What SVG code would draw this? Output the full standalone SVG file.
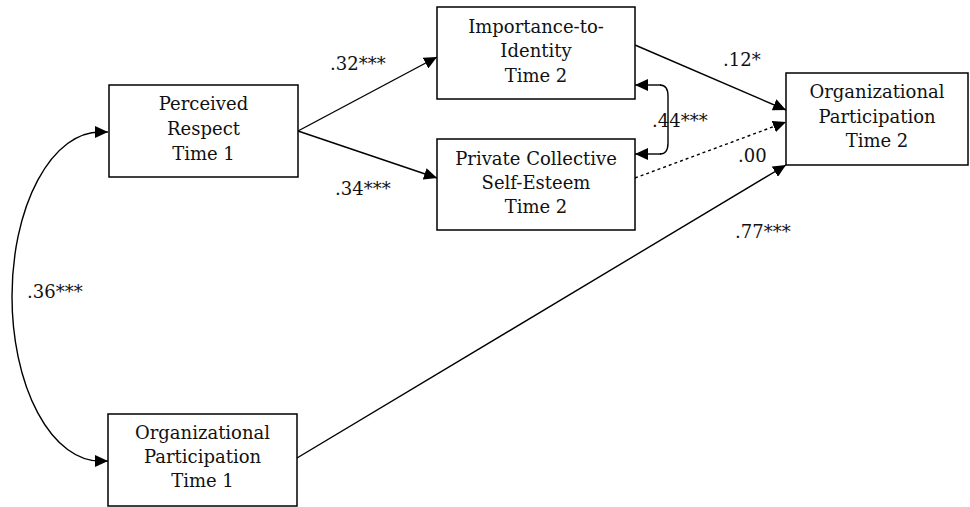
<svg xmlns="http://www.w3.org/2000/svg" width="970" height="507" viewBox="0 0 970 507">
<style>
.box{fill:#fff;stroke:#000;stroke-width:1.5}
text{font-family:"DejaVu Serif",serif}
.t{font-size:18px;letter-spacing:0px;fill:#111;text-anchor:middle}
.lbl{font-size:18px;fill:#111}
.c{fill:none;stroke:#000;stroke-width:1.4}
.dot{stroke-dasharray:3 3}
</style>
<defs>
<marker id="ah" markerUnits="userSpaceOnUse" markerWidth="14" markerHeight="12" refX="13" refY="6" orient="auto">
<path d="M0,0 L13,6 L0,12 Z" fill="#000"/>
</marker>
</defs>
<rect width="970" height="507" fill="#fff"/>
<g id="connectors">
<path class="c" d="M298,131 L437,57" marker-end="url(#ah)"/>
<path class="c" d="M298,131 L437,178" marker-end="url(#ah)"/>
<path class="c" d="M635,45 L786,110" marker-end="url(#ah)"/>
<path class="c dot" d="M635,178 L786,122" marker-end="url(#ah)"/>
<path class="c" d="M297,458 L786,165" marker-end="url(#ah)"/>
<path class="c" d="M660,85 C666,85 668,89 668,96 L668,143 C668,150 666,154 660,154" />
<path class="c" d="M661,85 L635,85" marker-end="url(#ah)"/>
<path class="c" d="M661,154 L635,154" marker-end="url(#ah)"/>
<path class="c" d="M100,132 A88 164.5 0 0 0 100,461"/>
<path class="c" d="M99,132 L108,132" marker-end="url(#ah)"/>
<path class="c" d="M99,461 L108,461" marker-end="url(#ah)"/>
</g>
<g id="perceived-respect">
<rect class="box" x="109" y="85" width="189" height="92"/>
<text class="t" x="203.5" y="110">Perceived</text>
<text class="t" x="203.5" y="135">Respect</text>
<text class="t" x="203.5" y="160">Time 1</text>
</g>
<g id="importance-to-identity">
<rect class="box" x="437" y="7" width="198" height="92"/>
<text class="t" x="536" y="33">Importance-to-</text>
<text class="t" x="536" y="57">Identity</text>
<text class="t" x="536" y="82">Time 2</text>
</g>
<g id="private-collective">
<rect class="box" x="437" y="139" width="198" height="91"/>
<text class="t" x="536" y="165">Private Collective</text>
<text class="t" x="536" y="189">Self-Esteem</text>
<text class="t" x="536" y="213">Time 2</text>
</g>
<g id="org-participation-t2">
<rect class="box" x="786" y="73" width="182" height="92"/>
<text class="t" x="877" y="98">Organizational</text>
<text class="t" x="877" y="123">Participation</text>
<text class="t" x="877" y="147">Time 2</text>
</g>
<g id="org-participation-t1">
<rect class="box" x="108" y="414" width="189" height="92"/>
<text class="t" x="202.5" y="439">Organizational</text>
<text class="t" x="202.5" y="463">Participation</text>
<text class="t" x="202.5" y="487">Time 1</text>
</g>
<g id="labels">
<text class="lbl" x="330" y="70">.32***</text>
<text class="lbl" x="335" y="195">.34***</text>
<text class="lbl" x="723" y="66">.12*</text>
<text class="lbl" x="652" y="127">.44***</text>
<text class="lbl" x="738" y="162">.00</text>
<text class="lbl" x="735" y="238">.77***</text>
<text class="lbl" x="27" y="298">.36***</text>
</g>
</svg>
